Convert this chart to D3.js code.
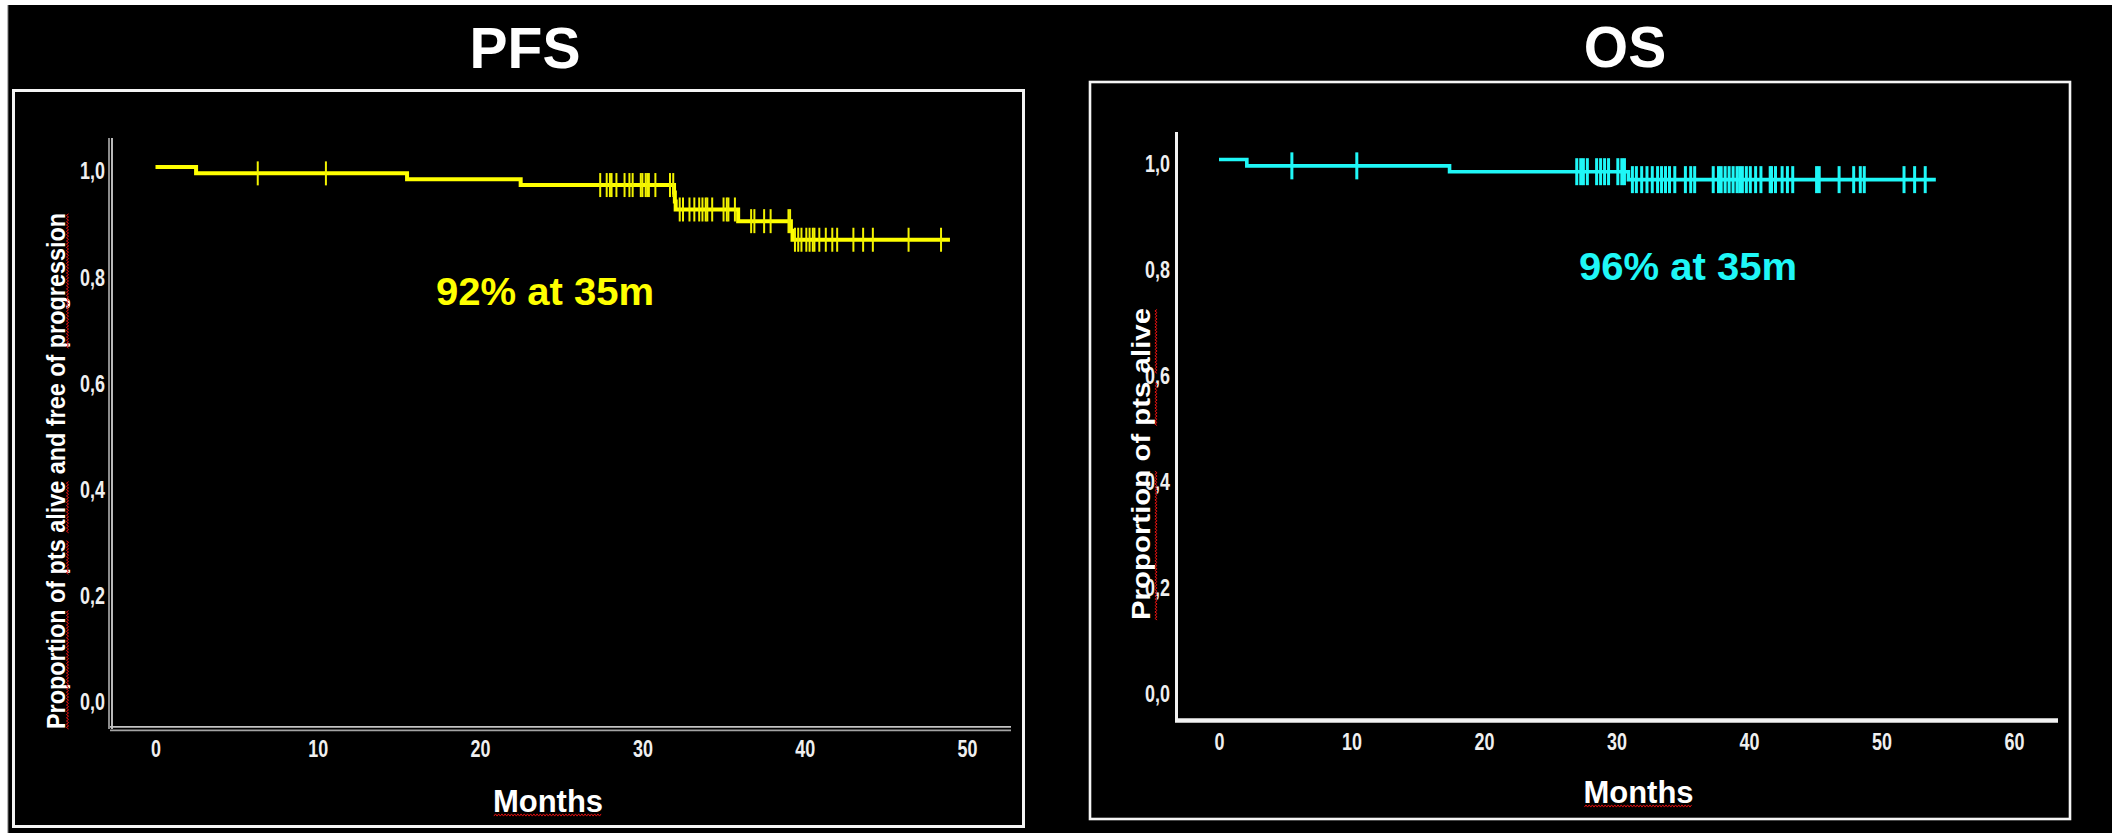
<!DOCTYPE html>
<html>
<head>
<meta charset="utf-8">
<script src="https://cdn.jsdelivr.net/npm/d3@7"></script>
<style>
  html, body { margin: 0; padding: 0; background: #ffffff; }
  svg { display: block; }
  text { font-family: "Liberation Sans", Arial, Helvetica, sans-serif; }
</style>
</head>
<body>
<svg id="chart" width="2112" height="833"></svg>
<script>
// ---- Kaplan-Meier data: progression-free survival ----
const pfsStepMonths   = [0, 2.5, 15.5, 22.5, 31.95, 32.0, 32.05, 35.9, 39.15, 39.25];
const pfsStepSurvival = [1.0, 0.988, 0.977, 0.966, 0.952, 0.935, 0.920, 0.898, 0.880, 0.863];
const pfsLastMonth = 48.95;
const pfsCensorMonths = [6.3, 10.5, 27.4, 27.8, 28.0, 28.1, 28.4, 28.9, 29.2, 29.4, 29.9, 30.0,
  30.2, 30.3, 30.4, 30.8, 31.7, 31.9, 32.3, 32.5, 32.9, 33.2, 33.5, 33.7, 33.9, 34.0, 34.3,
  35.0, 35.2, 35.3, 35.7, 36.7, 36.9, 37.5, 37.9, 39.0, 39.1, 39.4, 39.6, 39.8, 40.1, 40.3,
  40.5, 40.6, 40.9, 41.3, 41.7, 42.0, 43.0, 43.6, 44.2, 46.4, 48.4];

// ---- Kaplan-Meier data: overall survival ----
const osStepMonths   = [0, 2.1, 17.4, 30.9];
const osStepSurvival = [1.0, 0.988, 0.977, 0.962];
const osLastMonth = 54.1;
const osCensorMonths = [5.5, 10.4, 27.0, 27.3, 27.5, 27.8, 28.5, 28.8, 29.1, 29.4, 30.1, 30.4,
  30.6, 31.2, 31.5, 31.9, 32.3, 32.7, 33.1, 33.4, 33.7, 34.0, 34.4, 35.2, 35.6, 35.9, 37.3,
  37.7, 37.9, 38.2, 38.5, 38.8, 39.1, 39.3, 39.5, 39.8, 40.1, 40.5, 40.9, 41.6, 41.7, 42.0,
  42.5, 42.9, 43.3, 45.1, 45.3, 46.8, 47.9, 48.4, 48.7, 51.7, 52.5, 53.3];

// ---- ticks and labels ----
const yTickValues = [0, 0.2, 0.4, 0.6, 0.8, 1.0];
const pfsXTickValues = [0, 10, 20, 30, 40, 50];
const osXTickValues = [0, 10, 20, 30, 40, 50, 60];
const pfsTitle = "PFS";
const osTitle = "OS";
const pfsNote = "92% at 35m";
const osNote = "96% at 35m";
const pfsYTitle = "Proportion of pts alive and free of progression";
const osYTitle = "Proportion of pts alive";
const xTitle = "Months";

const svg = d3.select("#chart");
const defs = svg.append("defs");
defs.append("filter").attr("id", "soft")
  .attr("x", "-5%").attr("y", "-50%").attr("width", "110%").attr("height", "200%")
  .append("feGaussianBlur").attr("stdDeviation", 0.7);

// slide background (thin white margin on top/left)
svg.append("rect").attr("x", 8).attr("y", 5).attr("width", 2104).attr("height", 828).attr("fill", "#000");
svg.append("rect").attr("x", 7).attr("y", 5).attr("width", 1.3).attr("height", 828).attr("fill", "#b8b8b8");

const commaFormat = d3.formatLocale({ decimal: ",", thousands: ".", grouping: [3], currency: ["", ""] }).format(".1f");

// red wavy spell-check underline between x0 and x1 at height y
function squiggle(g, x0, x1, y) {
  const pts = [];
  let k = 0;
  for (let x = x0; x <= x1; x += 1.6, k++) pts.push([x, y + (k % 2 ? -1.1 : 1.1)]);
  g.append("path").attr("d", d3.line()(pts)).attr("fill", "none")
    .attr("stroke", "#e01010").attr("stroke-width", 1);
}

function underlineWords(g, textSel, words, offset) {
  const node = textSel.node();
  const full = textSel.text();
  words.forEach(w => {
    const i = full.indexOf(w);
    if (i < 0) return;
    const a = node.getStartPositionOfChar(i).x;
    const b = node.getEndPositionOfChar(i + w.length - 1).x;
    squiggle(g, Math.min(a, b), Math.max(a, b), offset);
  });
}

function drawPanel(cfg) {
  const g = svg.append("g");
  const x = d3.scaleLinear().domain(cfg.xDomain).range(cfg.xRange);
  const y = d3.scaleLinear().domain([0, 1]).range(cfg.yRange);

  // frame
  g.append("rect").attr("x", cfg.box[0]).attr("y", cfg.box[1])
    .attr("width", cfg.box[2]).attr("height", cfg.box[3])
    .attr("fill", "none").attr("stroke", "#f4f4f4").attr("stroke-width", cfg.boxStroke);

  // title above frame
  svg.append("text").attr("x", cfg.titleX).attr("y", cfg.titleY)
    .attr("text-anchor", "middle").attr("font-size", 57).attr("font-weight", "bold")
    .attr("fill", "#ffffff").text(cfg.title);

  // axis lines
  cfg.axisLines.forEach(l => {
    g.append("line").attr("x1", l[0]).attr("y1", l[1]).attr("x2", l[2]).attr("y2", l[3])
      .attr("stroke", l[4]).attr("stroke-width", l[5]);
  });

  // y tick labels
  const yAxis = g.append("g").attr("transform", `translate(${cfg.yAxisX},0)`)
    .call(d3.axisLeft(y).tickValues(yTickValues).tickFormat(commaFormat).tickSize(0).tickPadding(cfg.yPad));
  yAxis.select(".domain").remove();
  yAxis.attr("font-family", null);
  yAxis.selectAll("text").attr("font-size", 23).attr("font-weight", "bold").attr("fill", "#efefef")
    .attr("dy", "0.52em").attr("transform", "scale(0.78,1)");

  // x tick labels
  const xAxis = g.append("g").attr("transform", `translate(0,${cfg.xAxisY})`)
    .call(d3.axisBottom(x).tickValues(cfg.xTicks).tickSize(0).tickPadding(13));
  xAxis.select(".domain").remove();
  xAxis.attr("font-family", null);
  xAxis.selectAll("text").attr("font-size", 23).attr("font-weight", "bold").attr("fill", "#efefef")
    .attr("transform", "scale(0.78,1)");

  // y-axis title (rotated)
  const yt = g.append("g").attr("transform", `translate(${cfg.yTitle[0]},${cfg.yTitle[1]}) rotate(-90)`);
  const ytText = yt.append("text").attr("x", 0).attr("y", 0).attr("text-anchor", "middle")
    .attr("font-size", 25).attr("font-weight", "bold").attr("fill", "#ffffff")
    .attr("textLength", cfg.yTitle[2]).attr("lengthAdjust", "spacingAndGlyphs")
    .text(cfg.yTitleText);
  underlineWords(yt, ytText, cfg.yTitleMarked, cfg.yTitle[3]);

  // x-axis title
  const xt = g.append("text").attr("x", cfg.xTitle[0]).attr("y", cfg.xTitle[1])
    .attr("text-anchor", "middle").attr("font-size", 31).attr("font-weight", "bold")
    .attr("fill", "#ffffff").text(xTitle);
  const bb = xt.node().getBBox();
  squiggle(g, bb.x + 1, bb.x + bb.width - 1, cfg.xTitle[1] + 3);

  // survival curve
  const pts = cfg.months.map((m, i) => [m, cfg.survival[i]]);
  pts.push([cfg.last, cfg.survival[cfg.survival.length - 1]]);
  const curve = g.append("g").attr("filter", cfg.soft ? "url(#soft)" : null);
  curve.append("path")
    .attr("d", d3.line().x(d => x(d[0])).y(d => y(d[1])).curve(d3.curveStepAfter)(pts))
    .attr("fill", "none").attr("stroke", cfg.color).attr("stroke-width", cfg.lineWidth);

  // censoring marks sit on the curve level at that time
  const levelAt = m => cfg.survival[d3.bisectRight(cfg.months, m) - 1];
  curve.selectAll("line.censor").data(cfg.censors).join("line").attr("class", "censor")
    .attr("x1", d => x(d)).attr("x2", d => x(d))
    .attr("y1", d => y(levelAt(d)) - cfg.tickHalf).attr("y2", d => y(levelAt(d)) + cfg.tickHalf)
    .attr("stroke", cfg.tickColor).attr("stroke-width", cfg.tickWidth);

  // estimate annotation
  g.append("text").attr("x", cfg.note[0]).attr("y", cfg.note[1]).attr("text-anchor", "middle")
    .attr("font-size", 39).attr("font-weight", "bold").attr("fill", cfg.color)
    .attr("textLength", 218).attr("lengthAdjust", "spacingAndGlyphs")
    .text(cfg.noteText);
}

drawPanel({
  title: pfsTitle, titleX: 525, titleY: 68,
  box: [13.5, 90.5, 1010, 736], boxStroke: 3,
  xDomain: [0, 50], xRange: [155.5, 967], yRange: [698, 167],
  xTicks: pfsXTickValues, yAxisX: 110, yPad: 6.5, xAxisY: 728,
  axisLines: [
    [109, 138, 109, 729, "#9c9c9c", 1.8],
    [112, 138, 112, 729, "#cfcfcf", 1.8],
    [110, 726.8, 1011, 726.8, "#c4c4c4", 1.8],
    [110, 730.3, 1011, 730.3, "#a4a4a4", 1.8]
  ],
  yTitle: [65, 471, 516, 2.5], yTitleText: pfsYTitle,
  yTitleMarked: ["Proportion", "pts", "alive", "progression"],
  xTitle: [548, 812],
  months: pfsStepMonths, survival: pfsStepSurvival, last: pfsLastMonth, censors: pfsCensorMonths,
  color: "#ffff00", lineWidth: 4, tickColor: "#f2f200", tickWidth: 2, tickHalf: 12, soft: true,
  note: [545, 305], noteText: pfsNote
});

drawPanel({
  title: osTitle, titleX: 1625, titleY: 67,
  box: [1090, 82, 980, 737], boxStroke: 2.6,
  xDomain: [0, 60], xRange: [1219, 2014], yRange: [689.5, 159.5],
  xTicks: osXTickValues, yAxisX: 1176.5, yPad: 8.5, xAxisY: 720.5,
  axisLines: [
    [1176.5, 132, 1176.5, 722, "#f2f2f2", 3],
    [1175, 720.5, 2058, 720.5, "#f2f2f2", 4.6]
  ],
  yTitle: [1150, 464, 312, 6], yTitleText: osYTitle,
  yTitleMarked: ["Proportion", "pts", "alive"],
  xTitle: [1638.5, 803],
  months: osStepMonths, survival: osStepSurvival, last: osLastMonth, censors: osCensorMonths,
  color: "#1ff7f7", lineWidth: 3.6, tickColor: "#1ff7f7", tickWidth: 3, tickHalf: 13.5, soft: false,
  note: [1688, 280], noteText: osNote
});
</script>
</body>
</html>
